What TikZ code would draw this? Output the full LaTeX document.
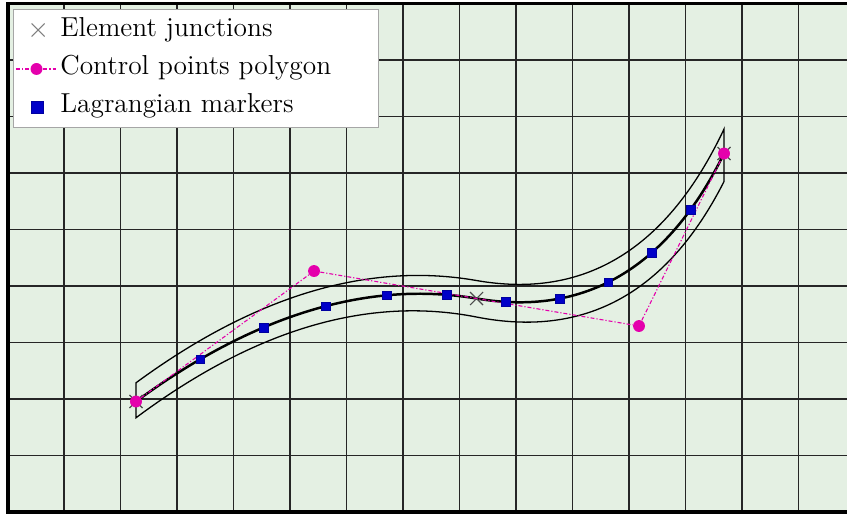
\documentclass[tikz,border=0pt]{standalone}
\usepackage{fontspec}
\usetikzlibrary{calc,shapes.misc}
\definecolor{fluidgreen}{RGB}{228,240,227}
\definecolor{ctrlpink}{RGB}{228,0,172}
\definecolor{lagblue}{RGB}{0,0,200}

\begin{document}
\begin{tikzpicture}%
        \tikzset{%
            gridline/.style={line width=0.65pt, black!85},
            frameline/.style={line width=2pt, black},
            bandline/.style={line width=0.65pt, black},
            centreline/.style={line width=1.25pt, black},
            polygonline/.style={ctrlpink, line width=0.55pt, dash pattern=on 2pt off 1pt on 0.6pt off 1pt},
            ctrlpoint/.style={circle, fill=ctrlpink, inner sep=0pt, minimum size=6pt},
            lagmarker/.style={rectangle, fill=lagblue, draw=lagblue!80!black, line width=0.2pt, inner sep=0pt, minimum size=4.4pt},
            junction/.style={cross out, draw=black!70, line width=0.55pt, inner sep=0pt, minimum size=6pt},
            legendbox/.style={draw=black!35, fill=white, line width=0.5pt},
            legendtext/.style={anchor=base west, inner sep=0pt, font=\fontsize{13.8}{16}\selectfont},
        }%
        \useasboundingbox (-0.133,-0.071) rectangle (14.858,9.062);
        \clip (-0.133,-0.071) rectangle (14.858,9.062);
        % fluid domain
        \fill[fluidgreen] (0,0) rectangle (15,9);
        \draw[gridline] (0,0) grid (15,9);
        \draw[frameline] (0,0) rectangle (15,9);
        % control points, the junction sits half way between P1 and P2
        \coordinate (P0) at (2.274,1.956);
        \coordinate (P1) at (5.425,4.265);
        \coordinate (P2) at (11.177,3.292);
        \coordinate (P3) at (12.681,6.345);
        \coordinate (M) at ($(P1)!0.5!(P2)$);
        % band round the curve
        \coordinate (U0) at ($(P0)+(0,0.331)$);
        \coordinate (U1) at ($(P1)+(0,0.336)$);
        \coordinate (U2) at ($(P2)+(0,0.301)$);
        \coordinate (U3) at ($(P3)+(0,0.432)$);
        \coordinate (UM) at ($(U1)!0.5!(U2)$);
        \coordinate (L0) at ($(P0)-(0,0.288)$);
        \coordinate (L1) at ($(P1)-(0,0.248)$);
        \coordinate (L2) at ($(P2)-(0,0.407)$);
        \coordinate (L3) at ($(P3)-(0,0.496)$);
        \coordinate (LM) at ($(L1)!0.5!(L2)$);
        \draw[bandline] (L0) -- (U0)
            .. controls ($(U0)!2/3!(U1)$) and ($(UM)!2/3!(U1)$) .. (UM)
            .. controls ($(UM)!2/3!(U2)$) and ($(U3)!2/3!(U2)$) .. (U3) -- (L3)
            .. controls ($(L3)!2/3!(L2)$) and ($(LM)!2/3!(L2)$) .. (LM)
            .. controls ($(LM)!2/3!(L1)$) and ($(L0)!2/3!(L1)$) .. (L0) -- cycle;
        % the two quadratic elements
        \draw[centreline] (P0) .. controls ($(P0)!2/3!(P1)$) and ($(M)!2/3!(P1)$) .. (M)
            .. controls ($(M)!2/3!(P2)$) and ($(P3)!2/3!(P2)$) .. (P3);
        \node[junction] (j0) at (P0) {};
        \node[junction] (j1) at (M) {};
        \node[junction] (j2) at (P3) {};
        % control polygon
        \foreach \i in {0,...,3} {\node[ctrlpoint] (c\i) at (P\i) {};}
        \draw[polygonline] (c0) -- (c1) -- (c2) -- (c3);
        % Lagrangian markers at t = k/11
        \path (P0) .. controls ($(P0)!2/3!(P1)$) and ($(M)!2/3!(P1)$) .. (M)
            foreach \k in {1,...,5} {node[lagmarker, pos=2*\k/11] (m\k) {}};
        \path (M) .. controls ($(M)!2/3!(P2)$) and ($(P3)!2/3!(P2)$) .. (P3)
            foreach \k in {6,...,10} {node[lagmarker, pos=(2*\k-11)/11] (m\k) {}};
        % legend
        \node[legendbox, anchor=north west, minimum width=6.461cm, minimum height=2.089cm] (legend) at (0.097,8.903) {};
        \node[junction, draw=black!50] (lj) at (0.540,8.531) {};
        \node[legendtext] (lt1) at (0.929,8.412) {Element junctions};
        \coordinate (la) at (0.150,7.841);
        \coordinate (lb) at (0.876,7.841);
        \draw[polygonline] (la) -- (lb);
        \node[ctrlpoint] (lc) at ($(la)!0.5!(lb)$) {};
        \node[legendtext] (lt2) at (0.929,7.735) {Control points polygon};
        \node[lagmarker, minimum size=6pt] (lm) at (0.519,7.159) {};
        \node[legendtext] (lt3) at (0.929,7.062) {Lagrangian markers};
    \end{tikzpicture}
\end{document}
